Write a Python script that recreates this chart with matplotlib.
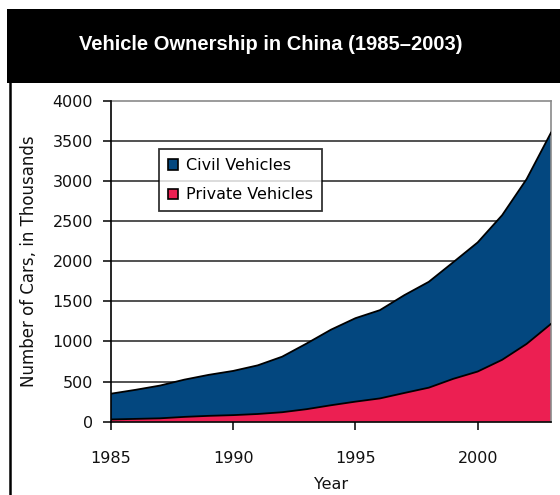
import matplotlib
matplotlib.use("Agg")
import matplotlib.pyplot as plt
from matplotlib.patches import Rectangle
from matplotlib.lines import Line2D
import numpy as np

# Vehicle ownership (thousands), 1985-2003
years = list(range(1985, 2004))
private_vehicles = [28, 35, 42, 60, 73, 82, 96, 118, 156, 205, 250,
                    290, 358, 424, 534, 625, 771, 969, 1219]
civil_vehicles = [321, 362, 408, 464, 511, 551, 606, 692, 818, 942, 1040,
                  1100, 1219, 1319, 1453, 1609, 1802, 2053, 2383]
series_labels = ["Civil Vehicles", "Private Vehicles"]
title_text = "Vehicle Ownership in China (1985\u20132003)"
y_ticks = [0, 500, 1000, 1500, 2000, 2500, 3000, 3500, 4000]
x_ticks = [1985, 1990, 1995, 2000]

BLUE = "#03477F"
RED = "#EC1F52"

W, H = 560, 495
fig = plt.figure(figsize=(W / 100, H / 100), dpi=100)
fig.patch.set_facecolor("white")

# title banner and frame
fig.patches.append(Rectangle((7.3 / W, 1 - 82.7 / H), 1.0, (82.7 - 9.3) / H,
                             transform=fig.transFigure, facecolor="black",
                             edgecolor="none", zorder=0))
fig.lines.append(Line2D([9.5 / W, 9.5 / W], [0, 1 - 82.7 / H],
                        transform=fig.transFigure, color="black", lw=1.8))
fig.text(271 / W, 1 - 44 / H, title_text, color="white", fontsize=14.5,
         fontweight="bold", ha="center", va="center",
         family=["Liberation Sans Narrow", "Liberation Sans", "DejaVu Sans"])

left, right = 111 / W, 551 / W
bottom, top = 1 - 421.7 / H, 1 - 100.7 / H
ax = fig.add_axes([left, bottom, right - left, top - bottom])

x = np.array(years)
p = np.array(private_vehicles)
c = np.array(civil_vehicles)
total = p + c

ax.fill_between(x, p, total, facecolor=BLUE, edgecolor="none", zorder=2,
                label=series_labels[0])
ax.fill_between(x, 0, p, facecolor=RED, edgecolor="none", zorder=2,
                label=series_labels[1])
ax.plot(x, total, color="black", lw=1.3, zorder=3)
ax.plot(x, p, color="black", lw=1.3, zorder=3)

ax.set_xlim(1985, 2003)
ax.set_ylim(0, 4000)
ax.set_xticks(x_ticks)
ax.set_yticks(y_ticks)
for yv in y_ticks[1:-1]:
    ax.axhline(yv, color="#222222", lw=1.1, zorder=1)

tick_font = dict(family="DejaVu Sans", size=11.5)
ax.set_xticklabels([str(v) for v in x_ticks], fontdict=tick_font)
ax.set_yticklabels([str(v) for v in y_ticks], fontdict=tick_font)
ax.tick_params(axis="both", direction="out", length=6, width=1.1,
               color="black", labelcolor="#111111")
ax.tick_params(axis="x", pad=15)
ax.tick_params(axis="y", pad=7)

for side in ("left", "bottom"):
    ax.spines[side].set_color("black")
    ax.spines[side].set_linewidth(1.2)
for side in ("top", "right"):
    ax.spines[side].set_color("#8a8a8a")
    ax.spines[side].set_linewidth(1.2)
ax.spines["left"].set_zorder(4)
ax.spines["bottom"].set_zorder(4)

ax.set_xlabel("Year", fontsize=11.5, family="DejaVu Sans", labelpad=8,
              color="#111111")
ax.set_ylabel("Number of Cars, in Thousands", fontsize=12,
              family="DejaVu Sans", labelpad=10, color="#111111")

handles = [Rectangle((0, 0), 1, 1, facecolor=BLUE, edgecolor="black", lw=1.2),
           Rectangle((0, 0), 1, 1, facecolor=RED, edgecolor="black", lw=1.2)]
leg = ax.legend(handles, series_labels, loc="upper left",
                bbox_to_anchor=((159 - 111) / 440, (421.7 - 149.3) / 321),
                prop=dict(family="DejaVu Sans", size=11.5), frameon=True,
                fancybox=False, handlelength=0.65, handleheight=0.65,
                handletextpad=0.5, borderpad=0.55, labelspacing=0.9,
                borderaxespad=0)
leg.get_frame().set_edgecolor("black")
leg.get_frame().set_linewidth(1.3)
leg.set_zorder(5)

fig.savefig("out.png", dpi=100)
